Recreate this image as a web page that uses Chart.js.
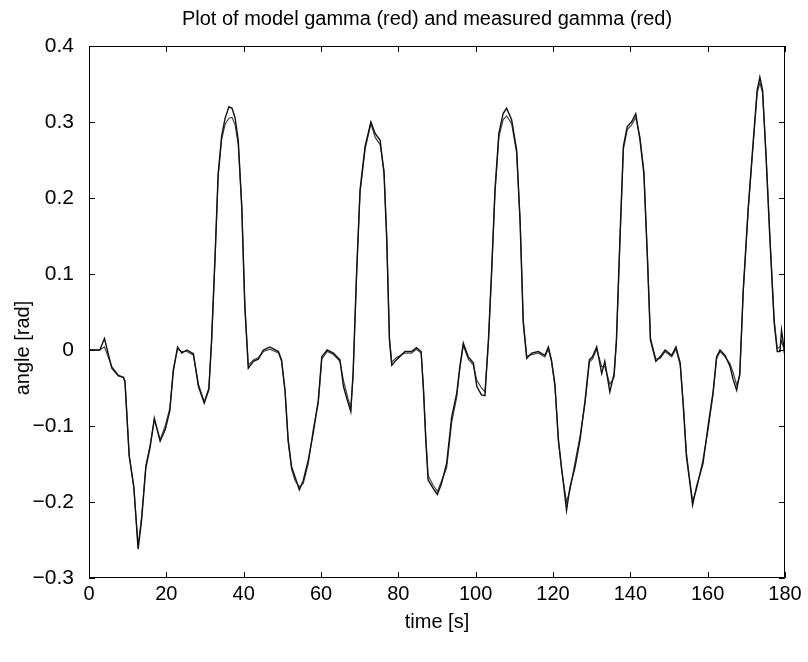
<!DOCTYPE html>
<html>
<head>
<meta charset="utf-8">
<script src="https://cdn.jsdelivr.net/npm/chart.js@4.4.1/dist/chart.umd.min.js"></script>
<style>
  html, body { margin: 0; padding: 0; background: #fff; }
  canvas { display: block; }
</style>
</head>
<body>
<canvas id="gammaChart" width="808" height="662"></canvas>
<script>
// time axis samples [s]
const timeS = [
  0, 2.8, 4, 5.9, 7.6, 8.9, 9.3, 10.4, 11.6, 12.7, 13.6, 14.7, 15.8, 16.9, 18.4, 19.7,
  20.9, 21.8, 22.9, 24, 25.3, 27, 28.3, 29.8, 31, 31.7, 32.6, 33.4, 34.3, 35.2, 36.2, 37,
  37.8, 38.6, 39.5, 40.3, 41.2, 42.5, 43.8, 45.1, 46.8, 49, 49.8, 50.7, 51.5, 52.4, 53.3,
  54.4, 55.4, 56.7, 58, 59.3, 60.2, 61.6, 63.2, 64.9, 65.8, 66.8, 67.7, 68.3, 69.2, 70.1,
  71.4, 72.9, 74, 75.3, 76.3, 77, 77.7, 78.3, 79.5, 81.7, 83.4, 84.7, 85.9, 86.5, 87.1,
  87.7, 89, 90.1, 91.2, 92.5, 93.8, 95.1, 95.9, 96.8, 98.1, 99.4, 100.3, 101.5, 102.4,
  103.3, 104.1, 105, 106, 107.1, 108, 109.3, 110.6, 111.5, 112.3, 113.2, 114.5, 116.2,
  117.9, 118.8, 119.6, 120.5, 121.4, 122.2, 123.5, 124.4, 125.7, 127, 128.3, 129.4, 130.2,
  131.3, 132.6, 133.4, 134.7, 135.8, 136.4, 137.3, 138.2, 139.2, 140.3, 141.4, 142.5,
  143.5, 144.4, 145.2, 146.6, 147.7, 149, 150.7, 151.8, 152.9, 153.7, 154.5, 155.4, 156.1,
  157.1, 158.8, 160.1, 161.4, 162.3, 163.2, 164.5, 165.8, 166.6, 167.5, 168.3, 169.2,
  170.5, 171.8, 172.8, 173.5, 174.2, 175.1, 176.1, 177.2, 178, 178.7, 179.1, 179.7, 180
];

// model gamma [rad]
const modelGamma = [
  0, 0, 0.015, -0.024, -0.034, -0.036, -0.042, -0.14, -0.18, -0.262, -0.224, -0.155,
  -0.128, -0.09, -0.12, -0.105, -0.08, -0.028, 0.004, -0.004, 0, -0.005, -0.048, -0.07,
  -0.052, 0.013, 0.123, 0.232, 0.281, 0.305, 0.32, 0.318, 0.305, 0.276, 0.188, 0.057,
  -0.024, -0.015, -0.012, 0, 0.004, -0.002, -0.013, -0.053, -0.118, -0.154, -0.167,
  -0.184, -0.172, -0.145, -0.109, -0.066, -0.009, 0, -0.004, -0.013, -0.048, -0.066,
  -0.081, -0.031, 0.101, 0.211, 0.268, 0.3, 0.285, 0.276, 0.232, 0.145, 0.013, -0.02,
  -0.013, -0.002, -0.002, 0.003, -0.002, -0.053, -0.118, -0.171, -0.182, -0.19, -0.175,
  -0.149, -0.088, -0.057, -0.022, 0.009, -0.009, -0.017, -0.048, -0.059, -0.06, 0.013,
  0.101, 0.211, 0.285, 0.311, 0.318, 0.303, 0.263, 0.167, 0.036, -0.011, -0.004, -0.002,
  -0.007, 0.004, -0.013, -0.045, -0.118, -0.154, -0.211, -0.18, -0.154, -0.118, -0.066,
  -0.013, -0.009, 0.004, -0.031, -0.015, -0.055, -0.031, 0.013, 0.145, 0.268, 0.294,
  0.3, 0.311, 0.276, 0.232, 0.123, 0.013, -0.015, -0.009, 0, -0.007, 0.004, -0.017,
  -0.075, -0.14, -0.175, -0.204, -0.18, -0.149, -0.1, -0.055, -0.009, 0, -0.007, -0.022,
  -0.039, -0.053, -0.031, 0.079, 0.188, 0.276, 0.342, 0.359, 0.342, 0.254, 0.145, 0.036,
  -0.002, -0.002, 0.026, 0.004, -0.01
];

// measured gamma [rad]
const measuredGamma = [
  0, 0, 0.004, -0.022, -0.033, -0.036, -0.04, -0.138, -0.182, -0.258, -0.22, -0.152,
  -0.125, -0.092, -0.118, -0.1, -0.077, -0.025, 0.001, -0.002, -0.002, -0.007, -0.045,
  -0.068, -0.05, 0.01, 0.12, 0.228, 0.277, 0.297, 0.305, 0.306, 0.296, 0.27, 0.192, 0.06,
  -0.02, -0.013, -0.01, -0.002, 0.001, -0.004, -0.015, -0.055, -0.12, -0.157, -0.172,
  -0.18, -0.176, -0.15, -0.104, -0.07, -0.012, -0.002, -0.006, -0.015, -0.04, -0.06,
  -0.077, -0.034, 0.098, 0.207, 0.264, 0.298, 0.28, 0.27, 0.236, 0.15, 0.016, -0.016,
  -0.01, -0.004, -0.004, 0.001, -0.004, -0.05, -0.115, -0.165, -0.178, -0.186, -0.172,
  -0.155, -0.095, -0.062, -0.025, 0.006, -0.012, -0.02, -0.04, -0.05, -0.055, 0.01,
  0.098, 0.207, 0.28, 0.303, 0.308, 0.298, 0.259, 0.171, 0.04, -0.008, -0.006, -0.004,
  -0.009, 0.001, -0.015, -0.048, -0.12, -0.157, -0.2, -0.184, -0.148, -0.113, -0.07,
  -0.016, -0.012, 0.001, -0.022, -0.022, -0.045, -0.036, 0.01, 0.14, 0.264, 0.29, 0.296,
  0.306, 0.28, 0.236, 0.127, 0.016, -0.012, -0.011, -0.002, -0.009, 0.001, -0.02, -0.07,
  -0.135, -0.172, -0.198, -0.184, -0.144, -0.105, -0.058, -0.012, -0.002, -0.009, -0.018,
  -0.03, -0.046, -0.034, 0.076, 0.185, 0.272, 0.338, 0.352, 0.338, 0.258, 0.15, 0.04,
  0.002, 0.004, 0.012, 0.002, -0.008
];

// axis ticks
const timeTicks = [0, 20, 40, 60, 80, 100, 120, 140, 160, 180];
const angleTicks = [-0.3, -0.2, -0.1, 0, 0.1, 0.2, 0.3, 0.4];

const titleText = 'Plot of model gamma (red) and measured gamma (red)';
const yLabelText = 'angle [rad]';

const FONT = 'Liberation Sans, Arial, Helvetica, sans-serif';
const TICK_LEN = 6;

function toPoints(xs, ys) {
  return xs.map((x, i) => ({ x: x, y: ys[i] }));
}

function fmtAngle(v) {
  const s = Number(v.toFixed(1)).toString();
  return s.replace('-', '\u2212');
}

// matlab style box with inward ticks on all four sides, plus title and y label
const boxTicks = {
  id: 'boxTicks',
  afterDraw(chart) {
    const { ctx, chartArea: a, scales } = chart;
    ctx.save();
    ctx.strokeStyle = '#000';
    ctx.lineWidth = 1;
    ctx.beginPath();
    ctx.rect(a.left + 0.5, a.top + 0.5, a.right - a.left - 1, a.bottom - a.top - 1);
    timeTicks.forEach(t => {
      const x = Math.round(scales.x.getPixelForValue(t)) + 0.5;
      ctx.moveTo(x, a.bottom);
      ctx.lineTo(x, a.bottom - TICK_LEN);
      ctx.moveTo(x, a.top);
      ctx.lineTo(x, a.top + TICK_LEN);
    });
    angleTicks.forEach(v => {
      const y = Math.round(scales.y.getPixelForValue(v)) + 0.5;
      ctx.moveTo(a.left, y);
      ctx.lineTo(a.left + TICK_LEN, y);
      ctx.moveTo(a.right, y);
      ctx.lineTo(a.right - TICK_LEN, y);
    });
    ctx.stroke();

    ctx.fillStyle = '#000';
    ctx.font = '20px ' + FONT;
    ctx.textAlign = 'center';
    ctx.textBaseline = 'middle';
    ctx.fillText(titleText, (a.left + a.right) / 2 - 10, 19);

    ctx.translate(23, 348);
    ctx.rotate(-Math.PI / 2);
    ctx.fillText(yLabelText, 0, 0);
    ctx.restore();
  }
};

const ctx = document.getElementById('gammaChart').getContext('2d');

new Chart(ctx, {
  type: 'line',
  data: {
    datasets: [
      {
        label: 'model gamma',
        data: toPoints(timeS, modelGamma),
        borderColor: '#111',
        borderWidth: 1.4,
        pointRadius: 0,
        tension: 0
      },
      {
        label: 'measured gamma',
        data: toPoints(timeS, measuredGamma),
        borderColor: '#444',
        borderWidth: 1.2,
        pointRadius: 0,
        tension: 0
      }
    ]
  },
  options: {
    responsive: false,
    animation: false,
    layout: { padding: { left: 0, right: 23, top: 46, bottom: 0 } },
    plugins: {
      legend: { display: false },
      tooltip: { enabled: false },
      title: { display: false }
    },
    scales: {
      x: {
        type: 'linear',
        min: 0,
        max: 180,
        afterFit: s => { s.height = 84; },
        afterBuildTicks: s => { s.ticks = timeTicks.map(v => ({ value: v })); },
        grid: { display: false, drawTicks: false },
        border: { display: false },
        ticks: {
          color: '#000',
          padding: 4,
          maxRotation: 0,
          autoSkip: false,
          font: { family: FONT, size: 20 }
        },
        title: {
          display: true,
          text: 'time [s]',
          color: '#000',
          font: { family: FONT, size: 20 },
          padding: { top: 0, bottom: 28 }
        }
      },
      y: {
        type: 'linear',
        min: -0.3,
        max: 0.4,
        afterFit: s => { s.width = 89; },
        afterBuildTicks: s => { s.ticks = angleTicks.map(v => ({ value: v })); },
        grid: { display: false, drawTicks: false },
        border: { display: false },
        ticks: {
          color: '#000',
          padding: 15,
          autoSkip: false,
          font: { family: FONT, size: 21 },
          callback: v => fmtAngle(v)
        },
        title: { display: false }
      }
    }
  },
  plugins: [boxTicks]
});
</script>
</body>
</html>
